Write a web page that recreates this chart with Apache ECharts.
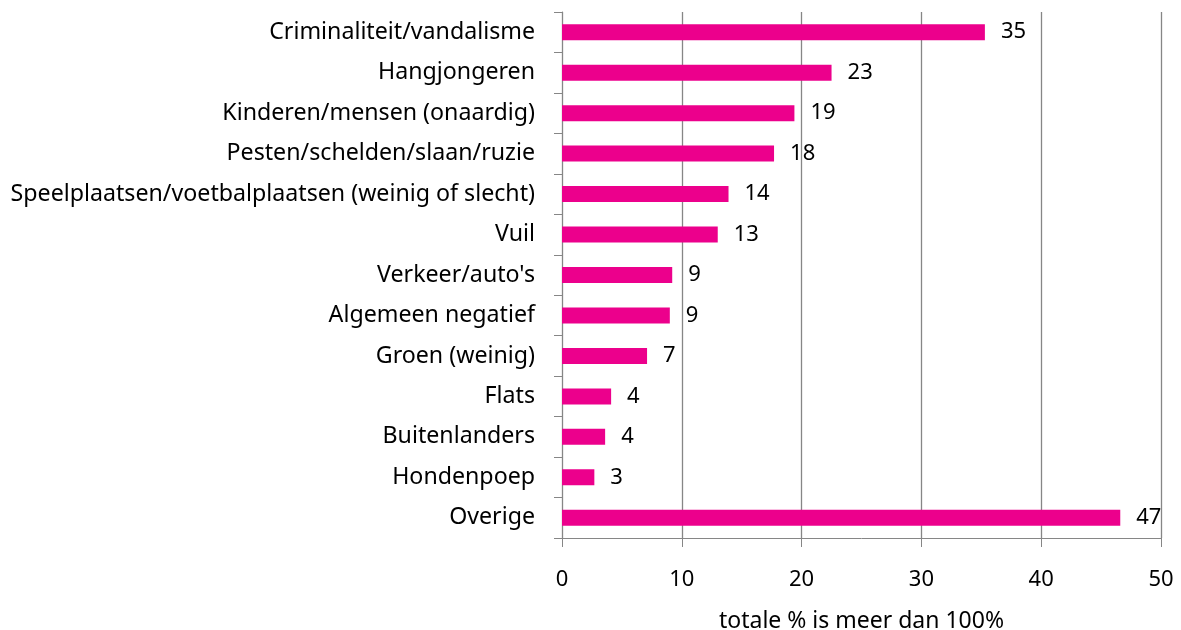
<!DOCTYPE html>
<html>
<head>
<meta charset="utf-8">
<script src="https://cdn.jsdelivr.net/npm/echarts@6/dist/echarts.min.js"></script>
<style>
  html, body { margin: 0; padding: 0; background: #fff; }
  #chart { width: 1181px; height: 630px; }
</style>
</head>
<body>
<div id="chart"></div>
<script>
// categorieen (van boven naar beneden)
const categories = [
  'Criminaliteit/vandalisme',
  'Hangjongeren',
  'Kinderen/mensen (onaardig)',
  'Pesten/schelden/slaan/ruzie',
  'Speelplaatsen/voetbalplaatsen (weinig of slecht)',
  'Vuil',
  "Verkeer/auto's",
  'Algemeen negatief',
  'Groen (weinig)',
  'Flats',
  'Buitenlanders',
  'Hondenpoep',
  'Overige'
]
const values = [35.3, 22.5, 19.4, 17.7, 13.9, 13.0, 9.2, 9.0, 7.1, 4.1, 3.6, 2.7, 46.6]
const xTicks = [0, 10, 20, 30, 40, 50]

const chart = echarts.init(document.getElementById('chart'))
const font = 'Noto Sans'
const gray = '#868686'

const option = {
  animation: false,
  grid: { left: 562, right: 20, top: 12, bottom: 92, outerBoundsMode: 'none', containLabel: false },
  xAxis: {
    type: 'value',
    min: xTicks[0],
    max: xTicks[xTicks.length - 1],
    interval: 10,
    name: 'totale % is meer dan 100%',
    nameLocation: 'middle',
    nameGap: 72,
    nameTextStyle: { fontFamily: font, fontSize: 23, color: '#000' },
    axisLine: { show: true, lineStyle: { color: gray } },
    axisTick: { show: true, length: 9, lineStyle: { color: gray } },
    axisLabel: { fontFamily: font, fontSize: 22, color: '#000', margin: 31 },
    splitLine: { show: true, lineStyle: { color: gray, width: 1.3 } }
  },
  yAxis: {
    type: 'category',
    inverse: true,
    data: categories,
    axisLine: { show: true, lineStyle: { color: gray } },
    axisTick: { show: true, length: 8, lineStyle: { color: gray } },
    axisLabel: { fontFamily: font, fontSize: 23.2, color: '#000', margin: 27 }
  },
  series: [
    {
      type: 'bar',
      data: values,
      barWidth: 16,
      itemStyle: { color: '#EC008C' },
      label: {
        show: true,
        position: 'right',
        distance: 16,
        fontFamily: font,
        fontSize: 22,
        color: '#000',
        formatter: (p) => Math.round(p.value)
      }
    }
  ]
}
chart.setOption(option)
</script>
</body>
</html>
